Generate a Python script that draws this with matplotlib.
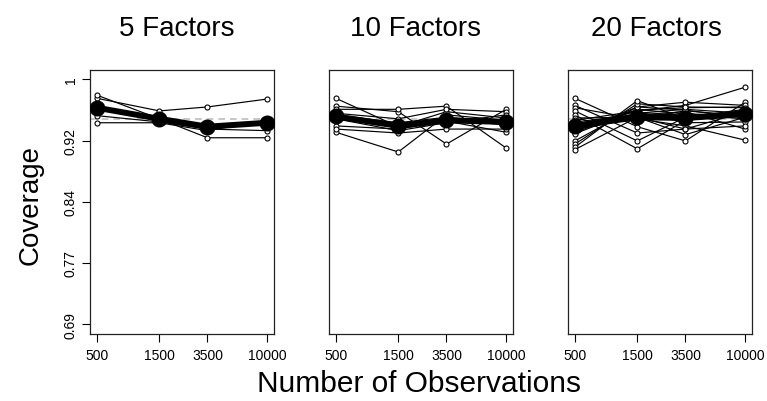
import numpy as np
import matplotlib
matplotlib.use("Agg")
import matplotlib.pyplot as plt

plt.rcParams['font.family'] = ['Liberation Sans', 'DejaVu Sans']

n_obs = [500, 1500, 3500, 10000]
x_tick_labels = ["500", "1500", "3500", "10000"]
panel_titles = ["5 Factors", "10 Factors", "20 Factors"]
y_ticks = [0.69, 0.7675, 0.845, 0.9225, 1.0]
y_tick_labels = ["0.69", "0.77", "0.84", "0.92", "1"]
nominal = 0.95

factors5 = [
    [0.976, 0.960, 0.965, 0.975],
    [0.980, 0.950, 0.926, 0.926],
    [0.967, 0.947, 0.940, 0.943],
    [0.954, 0.946, 0.937, 0.935],
    [0.945, 0.945, 0.935, 0.948],
]
mean5 = [0.964, 0.950, 0.940, 0.945]

factors10 = [
    [0.976, 0.940, 0.959, 0.951],
    [0.933, 0.908, 0.955, 0.948],
    [0.966, 0.959, 0.918, 0.962],
    [0.962, 0.962, 0.966, 0.913],
    [0.957, 0.950, 0.962, 0.959],
    [0.955, 0.945, 0.952, 0.946],
    [0.952, 0.942, 0.950, 0.942],
    [0.950, 0.935, 0.945, 0.955],
    [0.941, 0.937, 0.947, 0.933],
    [0.937, 0.932, 0.937, 0.937],
]
mean10 = [0.953, 0.941, 0.948, 0.946]

factors20 = [
    [0.976, 0.940, 0.922, 0.971],
    [0.967, 0.932, 0.937, 0.959],
    [0.964, 0.950, 0.941, 0.923],
    [0.960, 0.922, 0.952, 0.962],
    [0.955, 0.912, 0.948, 0.956],
    [0.951, 0.952, 0.930, 0.952],
    [0.948, 0.960, 0.967, 0.990],
    [0.946, 0.955, 0.959, 0.937],
    [0.943, 0.959, 0.945, 0.946],
    [0.941, 0.957, 0.962, 0.957],
    [0.938, 0.956, 0.955, 0.950],
    [0.936, 0.951, 0.960, 0.954],
    [0.937, 0.954, 0.951, 0.960],
    [0.935, 0.961, 0.964, 0.965],
    [0.932, 0.965, 0.961, 0.951],
    [0.931, 0.962, 0.956, 0.955],
    [0.922, 0.965, 0.971, 0.967],
    [0.918, 0.969, 0.965, 0.964],
    [0.914, 0.973, 0.950, 0.961],
    [0.911, 0.952, 0.937, 0.941],
]
mean20 = [0.941, 0.952, 0.951, 0.956]

panels = [(factors5, mean5), (factors10, mean10), (factors20, mean20)]

W, H = 767, 402
fig = plt.figure(figsize=(W / 100, H / 100), dpi=100)

lefts = [90, 329, 568]
ax_w, ax_top, ax_bot = 184, 70.5, 335
title_x = [176.5, 416, 656]

lx = np.log10(n_obs)
xr = lx[-1] - lx[0]
xlim = (10 ** (lx[0] - 0.04 * xr), 10 ** (lx[-1] + 0.04 * xr))
yr = y_ticks[-1] - y_ticks[0]
ylim = (y_ticks[0] - 0.04 * yr, y_ticks[-1] + 0.04 * yr)

for i, (rows, mean) in enumerate(panels):
    ax = fig.add_axes([lefts[i] / W, (H - ax_bot) / H, ax_w / W, (ax_bot - ax_top) / H])
    ax.set_xscale('log')
    ax.set_xlim(*xlim)
    ax.set_ylim(*ylim)
    ax.axhline(nominal, color='#bdbdbd', lw=1.2, ls=(0, (4, 3)), zorder=1)
    for r in rows:
        ax.plot(n_obs, r, color='black', lw=0.85, marker='o', ms=3.6,
                mfc='white', mec='black', mew=0.8, zorder=2)
    ax.plot(n_obs, mean, color='black', lw=4.3, marker='o', ms=10.5, zorder=3)
    ax.set_xticks(n_obs)
    ax.set_xticklabels(x_tick_labels)
    ax.xaxis.set_minor_locator(matplotlib.ticker.NullLocator())
    ax.tick_params(axis='x', direction='out', length=5.5, width=0.8, pad=4.5, labelsize=10)
    if i == 0:
        ax.set_yticks(y_ticks)
        ax.set_yticklabels(y_tick_labels, rotation=90, va='center')
        ax.tick_params(axis='y', direction='out', length=5.5, width=0.8, pad=3.5, labelsize=10)
    else:
        ax.set_yticks([])
    for s in ax.spines.values():
        s.set_linewidth(0.9)
        s.set_color('#222222')
    fig.text(title_x[i] / W, 1 - 29 / H, panel_titles[i], ha='center', va='center', fontsize=20)

fig.text(31 / W, 1 - 205 / H, "Coverage", rotation=90, ha='center', va='center', fontsize=20)
fig.text(419 / W, 1 - 384 / H, "Number of Observations", ha='center', va='center', fontsize=21.5)

fig.savefig("out.png", dpi=100)
